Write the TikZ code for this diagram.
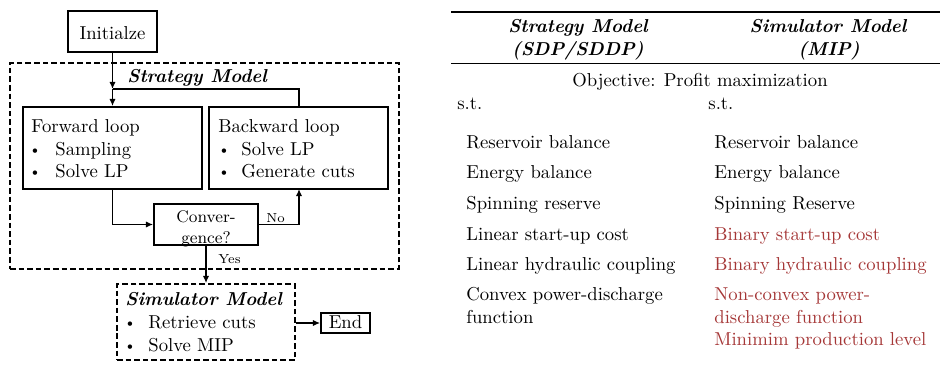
\documentclass[tikz,border=0pt]{standalone}
\usetikzlibrary{arrows.meta,fit}
\definecolor{mipred}{RGB}{165,55,55}
\tikzset{
  box/.style={draw, line width=1pt, inner sep=0pt},
  dbox/.style={draw, line width=1pt, dash pattern=on 3pt off 1.6pt, inner sep=0pt},
  link/.style={line width=1pt, -{Latex[length=3.8pt,width=3.4pt]}},
  wire/.style={line width=1pt},
  txt/.style={anchor=base west, inner sep=0pt},
  ctr/.style={anchor=base, inner sep=0pt},
  bul/.style={anchor=base, inner sep=0pt, font=\footnotesize},
  head/.style={anchor=base, inner sep=0pt, font=\bfseries\itshape},
  rule/.style={line width=0.8pt},
  thinrule/.style={line width=0.5pt},
}
\begin{document}
\begin{tikzpicture}[x=0.535pt, y=-0.535pt]
\useasboundingbox (0,0) rectangle (940,377);

% ---------------- flowchart ----------------
\node[box, fit={(68,11) (157,52)}] (init) {};
\node[ctr] (initT) at (112.5,40) {Initialze};

\node[dbox, fit={(10,63) (399,269)}] (strat) {};
\node[txt, font=\bfseries\itshape] (stratT) at (127,83) {Strategy Model};

\node[box, fit={(23,107) (202,189)}] (fwd) {};
\node[txt] (fwdT) at (31,133) {Forward loop};
\node[bul] (fwdB1) at (35,155) {\textbullet};
\node[txt] (fwdL1) at (55,156) {Sampling};
\node[bul] (fwdB2) at (35,177) {\textbullet};
\node[txt] (fwdL2) at (55,178) {Solve LP};

\node[box, fit={(209,107) (388,189)}] (bwd) {};
\node[txt] (bwdT) at (218,133) {Backward loop};
\node[bul] (bwdB1) at (224,155) {\textbullet};
\node[txt] (bwdL1) at (241,156) {Solve LP};
\node[bul] (bwdB2) at (224,177) {\textbullet};
\node[txt] (bwdL2) at (241,178) {Generate cuts};

\node[box, fit={(154,204) (258,245)}] (conv) {};
\node[ctr, font=\small] (convT1) at (206,222) {Conver-};
\node[ctr, font=\small] (convT2) at (206,243) {gence?};

\node[dbox, fit={(117,284) (295,360)}] (sim) {};
\node[txt, font=\bfseries\itshape] (simT) at (125,305) {Simulator Model};
\node[bul] (simB1) at (130,327) {\textbullet};
\node[txt] (simL1) at (148,328) {Retrieve cuts};
\node[bul] (simB2) at (130,350) {\textbullet};
\node[txt] (simL2) at (148,351) {Solve MIP};

\node[box, fit={(321,313) (370,333)}] (end) {};
\node[ctr] (endT) at (345.5,328) {End};

% connectors
\coordinate (j) at (112.5,89);
\coordinate (btop) at (299,107);
\coordinate (bbot) at (299,189);
\draw[link] (init.south) -- (j);
\draw[wire] (btop) |- (j);
\draw[link] (j) -- (j |- fwd.north);
\draw[link] (fwd.south -| j) |- (conv.west);
\draw[link] (conv.east) -| (bbot);
\node[txt, font=\scriptsize] (no) at (266,222) {No};
\draw[link] (conv.south) -- (conv.south |- sim.north);
\node[txt, font=\scriptsize] (yes) at (218,263) {Yes};
\draw[link] (sim.east |- end) -- (end.west);

% ---------------- comparison table ----------------
\draw[rule] (451,12) -- (940,12);
\draw[thinrule] (451,63) -- (940,63);

\node[head] (h1a) at (578,33) {Strategy Model};
\node[head] (h1b) at (578,56) {(SDP/SDDP)};
\node[head] (h2a) at (828,33) {Simulator Model};
\node[head] (h2b) at (829,56) {(MIP)};

\node[ctr] (obj) at (700,87) {Objective: Profit maximization};

\node[txt] (st1) at (457,110) {s.t.};
\node[txt] (st2) at (708,110) {s.t.};

\node[txt] (a1) at (466,149) {Reservoir balance};
\node[txt] (a2) at (466,179) {Energy balance};
\node[txt] (a3) at (466,210) {Spinning reserve};
\node[txt] (a4) at (466,240) {Linear start-up cost};
\node[txt] (a5) at (466,270) {Linear hydraulic coupling};
\node[txt] (a6) at (466,300) {Convex power-discharge};
\node[txt] (a7) at (466,323) {function};

\node[txt] (b1) at (714,149) {Reservoir balance};
\node[txt] (b2) at (714,179) {Energy balance};
\node[txt] (b3) at (714,210) {Spinning Reserve};
\node[txt, text=mipred] (b4) at (714,240) {Binary start-up cost};
\node[txt, text=mipred] (b5) at (714,270) {Binary hydraulic coupling};
\node[txt, text=mipred] (b6) at (714,300) {Non-convex power-};
\node[txt, text=mipred] (b7) at (714,323) {discharge function};
\node[txt, text=mipred] (b8) at (714,345) {Minimim production level};
\end{tikzpicture}
\end{document}
